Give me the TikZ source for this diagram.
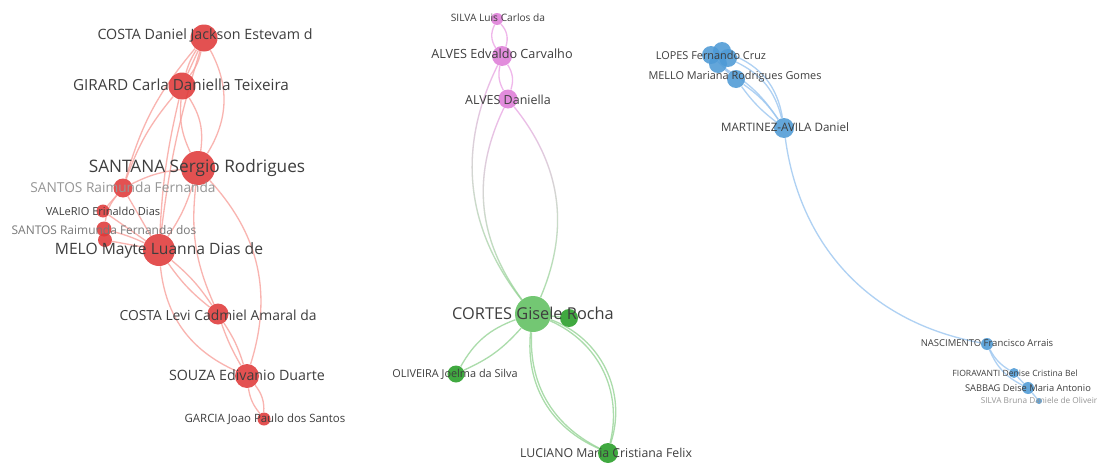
\documentclass[tikz,border=0pt]{standalone}
\usepackage{fontspec}
\setmainfont{Open Sans}
\usetikzlibrary{backgrounds,fadings}

\definecolor{clRot}{RGB}{224,58,58}
\definecolor{clRosa}{RGB}{222,125,216}
\definecolor{clGruen}{RGB}{96,192,96}
\definecolor{clGruenD}{RGB}{38,158,38}
\definecolor{clBlau}{RGB}{78,154,214}
\definecolor{kaRot}{RGB}{248,162,157}
\definecolor{kaRosa}{RGB}{236,165,230}
\definecolor{kaGruen}{RGB}{150,212,150}
\definecolor{kaBlau}{RGB}{155,198,240}
\definecolor{txtGrau}{RGB}{62,62,62}
\definecolor{txtHell}{RGB}{150,150,150}

\tikzset{
  knoten/.style={circle, inner sep=0pt, minimum size=#1*0.02cm, fill opacity=0.88},
  rot/.style={knoten=#1, fill=clRot},
  rosa/.style={knoten=#1, fill=clRosa},
  gruen/.style={knoten=#1, fill=clGruenD},
  blau/.style={knoten=#1, fill=clBlau},
  beschr/.style={inner sep=0pt, text=txtGrau, font=\fontsize{#1}{#1}\selectfont},
  kante/.style={line width=0.75pt, draw opacity=0.8},
  kRot/.style={kante, draw=kaRot},
  kRosa/.style={kante, draw=kaRosa},
  kGruen/.style={kante, draw=kaGruen},
  kBlau/.style={kante, draw=kaBlau},
  kMisch/.style={kante, draw=kaRosa, path fading=south,
    postaction={draw=kaGruen, path fading=north}},
}

\begin{document}
\begin{tikzpicture}[x=0.02cm, y=-0.02cm]
  \useasboundingbox (0,0) rectangle (1099,463);

  % Cluster rot
  \node[rot=27] (costaD) at (204,38) {};
  \node[rot=27] (girard) at (182,86) {};
  \node[rot=34] (santana) at (198,168) {};
  \node[rot=19] (santosRF) at (123,188) {};
  \node[rot=13] (valerio) at (103,211) {};
  \node[rot=15] (santosRFdos) at (104,229) {};
  \node[rot=14] (santosB) at (105,240) {};
  \node[rot=32] (melo) at (159,250) {};
  \node[rot=21] (costaL) at (218,314) {};
  \node[rot=24] (souza) at (247,376) {};
  \node[rot=13] (garcia) at (264,419) {};

  % Cluster rosa
  \node[rosa=12] (silvaL) at (497,19) {};
  \node[rosa=20] (alvesE) at (502,56) {};
  \node[rosa=19] (alvesD) at (508,99) {};

  % Cluster gruen
  \node[gruen=36, fill=clGruen] (cortes) at (533,314) {};
  \node[gruen=18] (gruenB) at (569,318) {};
  \node[gruen=17] (oliveira) at (456,374) {};
  \node[gruen=20] (luciano) at (608,453) {};

  % Cluster blau
  \node[blau=18] (lopesA) at (711,55) {};
  \node[blau=18] (lopesB) at (722,51) {};
  \node[blau=18] (lopesC) at (728,58) {};
  \node[blau=18] (lopesD) at (718,64) {};
  \node[blau=18] (melloM) at (736,79) {};
  \node[blau=20] (martinez) at (784,128) {};
  \node[blau=12] (nascimento) at (987,344) {};
  \node[blau=10] (fioravanti) at (1014,373) {};
  \node[blau=12] (sabbag) at (1028,388) {};
  \node[blau=6] (silvaB) at (1039,401) {};

  % Kanten
  \begin{pgfonlayer}{background}
    \fill[white] (0,0) rectangle (1099,463);
    \draw[kRot] (costaD) to[bend left=12] (girard);
    \draw[kRot] (costaD) to[bend right=8] (girard);
    \draw[kRot] (costaD) to (girard);
    \draw[kRot] (costaD) to[bend left=30] (santana);
    \draw[kRot] (costaD) to[bend right=12] (santosRF);
    \draw[kRot] (costaD) to[bend right=5] (melo);
    \draw[kRot] (girard) to[bend left=20] (santana);
    \draw[kRot] (girard) to[bend right=15] (santana);
    \draw[kRot] (girard) to[bend right=10] (santosRF);
    \draw[kRot] (girard) to[bend right=5] (melo);
    \draw[kRot] (santana) to[bend right=10] (santosRF);
    \draw[kRot] (santana) to[bend left=8] (melo);
    \draw[kRot] (santana) to[bend right=15] (costaL);
    \draw[kRot] (santana) to[bend left=30] (souza);
    \draw[kRot] (santosRF) to (valerio);
    \draw[kRot] (santosRF) to[bend right=15] (santosRFdos);
    \draw[kRot] (santosRF) to (melo);
    \draw[kRot] (melo) to (valerio);
    \draw[kRot] (melo) to[bend right=5] (santosRFdos);
    \draw[kRot] (melo) to (santosB);
    \draw[kRot] (melo) to[bend left=8] (costaL);
    \draw[kRot] (melo) to[bend right=8] (costaL);
    \draw[kRot] (melo) to[bend right=30] (souza);
    \draw[kRot] (costaL) to[bend left=8] (souza);
    \draw[kRot] (costaL) to[bend right=5] (souza);
    \draw[kRot] (souza) to[bend left=20] (garcia);
    \draw[kRot] (souza) to[bend right=15] (garcia);

    \draw[kRosa] (silvaL) to[bend left=30] (alvesE);
    \draw[kRosa] (silvaL) to[bend right=30] (alvesE);
    \draw[kRosa] (alvesE) to[bend left=25] (alvesD);
    \draw[kRosa] (alvesE) to[bend right=20] (alvesD);
    \draw[kMisch] (alvesE) to[bend right=32] (cortes);
    \draw[kMisch] (alvesD) to[bend right=31] (cortes);
    \draw[kMisch] (alvesD) to[bend left=31] (cortes);

    \draw[kGruen] (cortes) to[bend left=12] (oliveira);
    \draw[kGruen] (cortes) to[bend right=20] (oliveira);
    \draw[kGruen] (cortes) to[bend left=40] (luciano);
    \draw[kGruen] (cortes) to[bend left=44] (luciano);
    \draw[kGruen] (cortes) to[bend right=33] (luciano);
    \draw[kGruen] (cortes) to[bend right=36] (luciano);
    \draw[kGruen] (cortes) to (gruenB);

    \draw[kBlau] (lopesA) to (melloM);
    \draw[kBlau] (lopesD) to (melloM);
    \draw[kBlau] (lopesC) to[bend left=25] (martinez);
    \draw[kBlau] (lopesB) to[bend left=30] (martinez);
    \draw[kBlau] (lopesD) to[bend left=12] (martinez);
    \draw[kBlau] (melloM) to[bend left=10] (martinez);
    \draw[kBlau] (melloM) to[bend right=8] (martinez);
    \draw[kBlau] (martinez) to[bend right=36] (nascimento);
    \draw[kBlau] (nascimento) to[bend right=15] (fioravanti);
    \draw[kBlau] (nascimento) to[bend right=20] (sabbag);
    \draw[kBlau] (fioravanti) to (sabbag);
    \draw[kBlau] (sabbag) to (silvaB);
  \end{pgfonlayer}

  % Beschriftungen
  \node[beschr=8.1] (costaDL) at (205,35) {COSTA Daniel Jackson Estevam d};
  \node[beschr=8.7] (girardL) at (181,85) {GIRARD Carla Daniella Teixeira};
  \node[beschr=9.8] (santanaL) at (197,168) {SANTANA Sergio Rodrigues};
  \node[beschr=7.8, text=txtHell] (santosRFL) at (123,187) {SANTOS Raimunda Fernanda};
  \node[beschr=6.3] (valerioL) at (103,211) {VALeRIO Erinaldo Dias};
  \node[beschr=6.8, text=txtHell!80!black] (santosRFdosL) at (104,230) {SANTOS Raimunda Fernanda dos};
  \node[beschr=8.9] (meloL) at (159,250) {MELO Mayte Luanna Dias de};
  \node[beschr=7.9] (costaLL) at (218,315) {COSTA Levi Cadmiel Amaral da};
  \node[beschr=8.1] (souzaL) at (247,375) {SOUZA Edivanio Duarte};
  \node[beschr=6.5] (garciaL) at (265,419) {GARCIA Joao Paulo dos Santos};

  \node[beschr=5.8] (silvaLL) at (498,18) {SILVA Luis Carlos da};
  \node[beschr=7.2] (alvesEL) at (502,54) {ALVES Edvaldo Carvalho};
  \node[beschr=7.1] (alvesDL) at (508,100) {ALVES Daniella};

  \node[beschr=9.3] (cortesL) at (533,313) {CORTES Gisele Rocha};
  \node[beschr=6.2] (oliveiraL) at (455,374) {OLIVEIRA Joelma da Silva};
  \node[beschr=7.0] (lucianoL) at (606,453) {LUCIANO Maria Cristiana Felix};

  \node[beschr=6.2] (lopesL) at (711,55) {LOPES Fernando Cruz};
  \node[beschr=6.2] (melloML) at (735,77) {MELLO Mariana Rodrigues Gomes};
  \node[beschr=6.6] (martinezL) at (785,127) {MARTINEZ-AVILA Daniel};
  \node[beschr=5.4] (nascimentoL) at (987,343) {NASCIMENTO Francisco Arrais};
  \node[beschr=4.9] (fioravantiL) at (1015,373) {FIORAVANTI Denise Cristina Bel};
  \node[beschr=5.3] (sabbagL) at (1028,388) {SABBAG Deise Maria Antonio};
  \node[beschr=4.7, text=txtHell] (silvaBL) at (1039,400) {SILVA Bruna Daniele de Oliveir};
\end{tikzpicture}
\end{document}
